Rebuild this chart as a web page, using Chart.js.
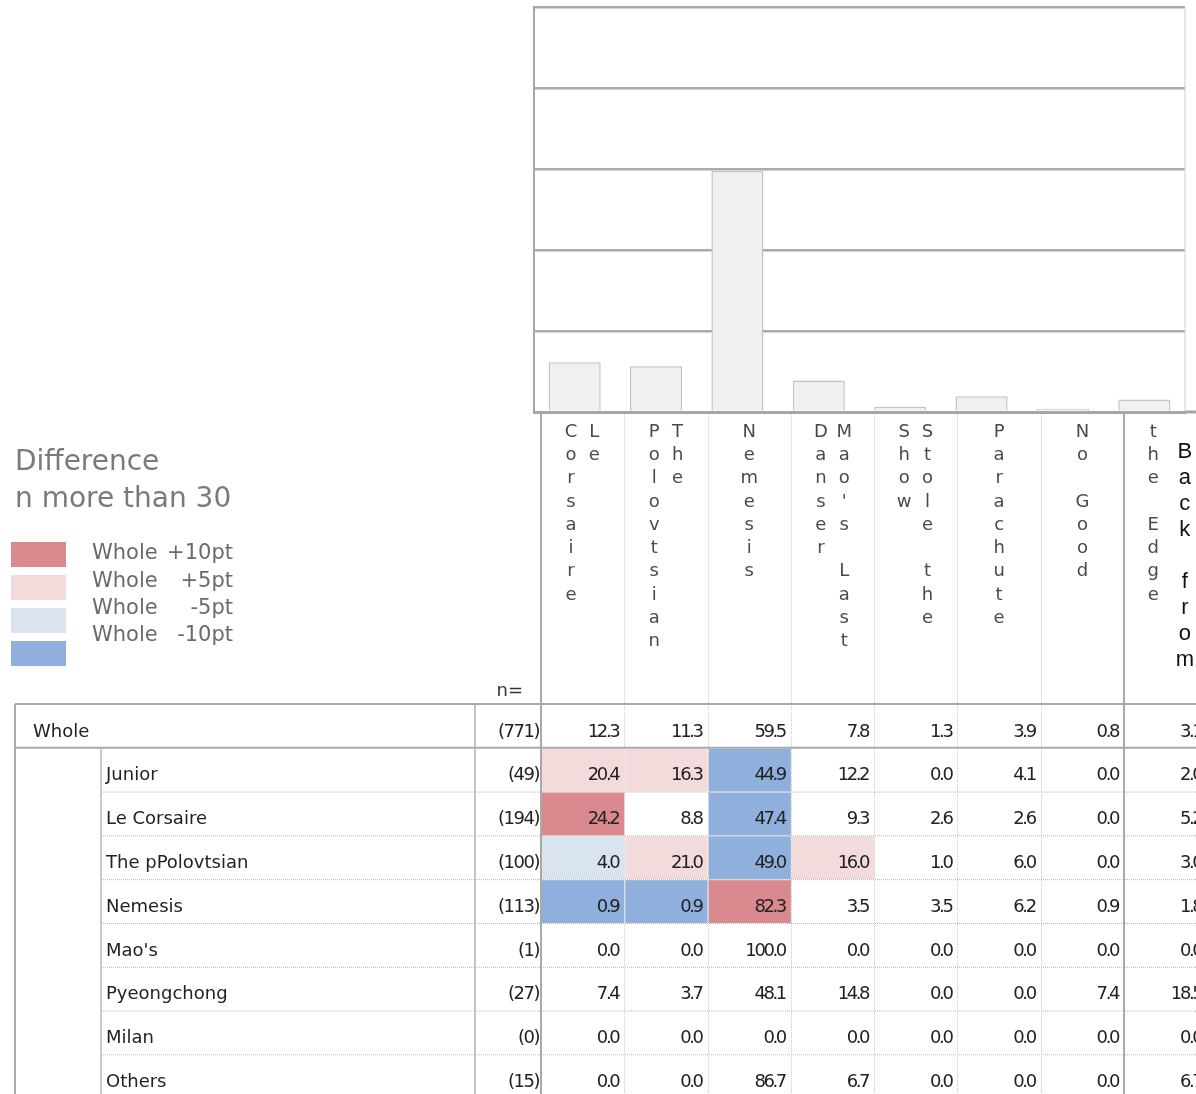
<!DOCTYPE html>
<html>
<head>
<meta charset="utf-8">
<script src="https://cdn.jsdelivr.net/npm/chart.js@4.4.1/dist/chart.umd.min.js"></script>
<style>
html,body{margin:0;padding:0;background:#fff;overflow:hidden}
canvas{display:block}
</style>
</head>
<body>
<canvas id="c" width="1196" height="1094"></canvas>
<script>
// ---------- data ----------
const categories = ["Le Corsaire", "The Polovtsian", "Nemesis", "Mao's Last Danser", "Stole the Show", "Parachute", "No Good", "Back from the Edge"];
const headerLines = [["Le", "Corsaire"], ["The", "Polovtsian"], ["Nemesis"], ["Mao's Last", "Danser"], ["Stole the", "Show"], ["Parachute"], ["No Good"], ["Back from", "the Edge"]];
const wholeLabel = "Whole";
const wholeN = 771;
const wholeValues = [12.3, 11.3, 59.5, 7.8, 1.3, 3.9, 0.8, 3.1];
const rowLabels = ["Junior", "Le Corsaire", "The pPolovtsian", "Nemesis", "Mao's", "Pyeongchong", "Milan", "Others"];
const rowN = [49, 194, 100, 113, 1, 27, 0, 15];
const rowValues = [
  [20.4, 16.3, 44.9, 12.2, 0.0, 4.1, 0.0, 2.0],
  [24.2, 8.8, 47.4, 9.3, 2.6, 2.6, 0.0, 5.2],
  [4.0, 21.0, 49.0, 16.0, 1.0, 6.0, 0.0, 3.0],
  [0.9, 0.9, 82.3, 3.5, 3.5, 6.2, 0.9, 1.8],
  [0.0, 0.0, 100.0, 0.0, 0.0, 0.0, 0.0, 0.0],
  [7.4, 3.7, 48.1, 14.8, 0.0, 0.0, 7.4, 18.5],
  [0.0, 0.0, 0.0, 0.0, 0.0, 0.0, 0.0, 0.0],
  [0.0, 0.0, 86.7, 6.7, 0.0, 0.0, 0.0, 6.7]
];
const legendTitle = ["Difference", "n more than 30"];
const legendPrefix = "Whole";
const legendSuffix = ["+10pt", "+5pt", "-5pt", "-10pt"];
const nMin = 30;

// ---------- styles ----------
const HEAT = ['#da8a8e', '#f3dbdc', '#dae4f0', '#8fb0dc'];
const LINE = '#a9a9a9';
const FONT = '"DejaVu Sans", sans-serif';

function heatIndex(v, w, n) {
  if (n <= nMin) return -1;
  const d = Math.round((v - w) * 10) / 10;
  if (d >= 10) return 0;
  if (d >= 5) return 1;
  if (d <= -10) return 3;
  if (d <= -5) return 2;
  return -1;
}

function hline(ctx, x1, x2, y, color, w, dash) {
  ctx.save(); ctx.strokeStyle = color; ctx.lineWidth = w; ctx.setLineDash(dash || []);
  ctx.beginPath(); ctx.moveTo(x1, y); ctx.lineTo(x2, y); ctx.stroke(); ctx.restore();
}
function vline(ctx, x, y1, y2, color, w, dash) {
  ctx.save(); ctx.strokeStyle = color; ctx.lineWidth = w; ctx.setLineDash(dash || []);
  ctx.beginPath(); ctx.moveTo(x, y1); ctx.lineTo(x, y2); ctx.stroke(); ctx.restore();
}

const tablePlugin = {
  id: 'crossTable',
  afterDraw(chart) {
    const ctx = chart.ctx;
    const xs = chart.scales.xTable, ys = chart.scales.yTable;
    const ca = chart.chartArea;
    const W = chart.width, H = chart.height;
    const colX = k => xs.getPixelForValue(k);
    const rowY = r => ys.getPixelForValue(r);
    const nCols = categories.length;
    const TABLE_LEFT = 15, INDENT_X = 101, NCOL_X = 475;
    const allRows = [[wholeLabel, wholeN, wholeValues]].concat(rowLabels.map((l, i) => [l, rowN[i], rowValues[i]]));

    ctx.save();
    // chart frame extras
    vline(ctx, ca.right, ca.top, ca.bottom, '#cfcfcf', 1);
    hline(ctx, ca.right, W, ca.bottom, '#a6a6a6', 3);

    // heat cells
    allRows.forEach((row, r) => {
      if (r === 0) return;
      row[2].forEach((v, j) => {
        const hi = heatIndex(v, wholeValues[j], row[1]);
        if (hi < 0) return;
        ctx.fillStyle = HEAT[hi];
        const x1 = colX(j), x2 = colX(j + 1), y1 = rowY(r), y2 = rowY(r + 1);
        ctx.fillRect(x1 + 1, y1 + 1, x2 - x1 - 1, y2 - y1 - 1);
      });
    });

    // dotted row separators
    for (let r = 2; r < allRows.length; r++) {
      hline(ctx, INDENT_X, W, rowY(r) + 0.5, '#b5b5b5', 1, [1, 1]);
    }
    // dotted column separators
    for (let j = 1; j < nCols; j++) {
      vline(ctx, Math.round(colX(j)) + 0.5, ca.bottom + 2, H, '#cdcdcd', 1, [1, 1]);
    }
    // solid lines
    vline(ctx, colX(0), ca.bottom + 2, H, LINE, 2);
    vline(ctx, colX(nCols - 1), ca.bottom + 2, H, LINE, 2);
    hline(ctx, TABLE_LEFT, W, rowY(0), LINE, 2);
    hline(ctx, TABLE_LEFT, W, rowY(1), LINE, 2);
    vline(ctx, TABLE_LEFT, rowY(0), H, LINE, 2);
    vline(ctx, NCOL_X, rowY(0), H, '#b0b0b0', 1.5);
    vline(ctx, INDENT_X, rowY(1), H, '#b8b8b8', 1.5);

    // header letters (vertical writing, columns right-to-left)
    ctx.textAlign = 'center';
    ctx.textBaseline = 'middle';
    headerLines.forEach((lines, j) => {
      const left = colX(j), w = colX(j + 1) - left;
      const last = j === nCols - 1;
      const fr = lines.length === 1 ? [0.5] : (last ? [0.73, 0.35] : [0.64, 0.36]);
      lines.forEach((line, li) => {
        const big = last && li === 0;
        ctx.font = big ? '22px "Liberation Sans", Arial, sans-serif' : '18px ' + FONT;
        ctx.fillStyle = big ? '#111' : '#4a4a4a';
        const step = big ? 26 : 23.3;
        const y0 = ca.bottom + (big ? 40 : 20);
        [...line].forEach((ch, k) => {
          if (ch !== ' ') ctx.fillText(ch, left + w * fr[li], y0 + k * step);
        });
      });
    });

    // n= label
    ctx.font = '18px ' + FONT;
    ctx.fillStyle = '#333';
    ctx.textAlign = 'right';
    ctx.fillText('n=', 523, rowY(0) - 13);

    // rows
    allRows.forEach((row, r) => {
      const y1 = rowY(r), y2 = rowY(r + 1), yc = (y1 + y2) / 2 + 6;
      ctx.font = '18px ' + FONT;
      ctx.fillStyle = '#222';
      ctx.textAlign = 'left';
      ctx.letterSpacing = '0px';
      ctx.fillText(row[0], r === 0 ? 33 : INDENT_X + 5, yc);
      ctx.textAlign = 'right';
      ctx.letterSpacing = '-1.5px';
      ctx.fillText('(' + row[1] + ')', colX(0) - 2, yc);
      ctx.letterSpacing = '-2.4px';
      row[2].forEach((v, j) => {
        ctx.fillText(v.toFixed(1), colX(j + 1) - 6, yc);
      });
      ctx.letterSpacing = '0px';
    });

    // legend
    ctx.textAlign = 'left';
    ctx.font = '28px ' + FONT;
    ctx.fillStyle = '#7a7a7a';
    legendTitle.forEach((t, i) => ctx.fillText(t, 15, 463 + i * 37));
    ctx.font = '21px ' + FONT;
    legendSuffix.forEach((s, i) => {
      const y = 542 + i * 33;
      ctx.fillStyle = HEAT[i];
      ctx.fillRect(11, y, 55, 25);
      const ty = 554 + i * 27.3;
      ctx.fillStyle = '#6a6a6a';
      ctx.textAlign = 'left';
      ctx.fillText(legendPrefix, 92, ty);
      ctx.textAlign = 'right';
      ctx.fillText(s, 233, ty);
    });
    ctx.restore();
  }
};

new Chart(document.getElementById('c'), {
  type: 'bar',
  data: {
    labels: categories,
    datasets: [{
      data: wholeValues,
      backgroundColor: '#f0f0f0',
      borderColor: '#c4c4c4',
      borderWidth: 1.5,
      categoryPercentage: 0.8,
      barPercentage: 0.8,
      xAxisID: 'x',
      yAxisID: 'y'
    }]
  },
  options: {
    responsive: false,
    devicePixelRatio: 1,
    animation: false,
    events: [],
    layout: { padding: { left: 534, top: 7, right: 11, bottom: 682 } },
    plugins: { legend: { display: false }, tooltip: { enabled: false } },
    scales: {
      x: {
        type: 'category',
        ticks: { display: false },
        grid: { display: false, drawTicks: false },
        border: { display: true, color: '#a6a6a6', width: 3 }
      },
      y: {
        type: 'linear', min: 0, max: 100,
        ticks: { display: false, stepSize: 20 },
        grid: { color: '#aaaaaa', lineWidth: 2.5, drawTicks: false },
        border: { display: true, color: '#a6a6a6', width: 2 }
      },
      xTable: { type: 'linear', axis: 'x', position: 'bottom', display: false, offset: false, grid: { offset: false }, min: -0.084, max: 7.732 },
      yTable: { type: 'linear', axis: 'y', position: 'left', display: false, offset: false, reverse: true, min: -15.913, max: -6.666 }
    }
  },
  plugins: [tablePlugin]
});
</script>
</body>
</html>
